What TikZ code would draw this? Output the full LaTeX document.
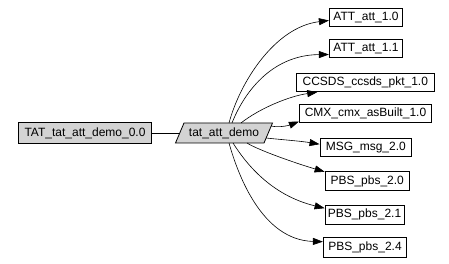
\documentclass[tikz,border=0pt]{standalone}
\usepackage{fontspec}
\setmainfont{Liberation Sans}
\usetikzlibrary{arrows.meta,calc,backgrounds}
\definecolor{nodegrey}{HTML}{D3D3D3}
\begin{document}
\begin{tikzpicture}[x=1pt,y=-1pt,
  lbl/.style={inner sep=0pt, font=\fontsize{12}{14}\selectfont},
  box/.style={lbl, draw, line width=0.8pt},
  edge/.style={line width=0.6pt, -{Triangle[length=10pt,width=7pt]}},
  link/.style={line width=0.6pt}]
\useasboundingbox (0,0) rectangle (449,264);
% left nodes
\node[box, fill=nodegrey, minimum width=133pt, minimum height=20.5pt] (tat) at (85,133) {TAT\_tat\_att\_demo\_0.0};
\node[lbl, minimum width=88pt, minimum height=20pt] (demo) at (224,133) {tat\_att\_demo};
\begin{scope}[on background layer]
\filldraw[fill=nodegrey, line width=0.8pt] ($(demo)+(-48.5,10)$) -- ($(demo)+(-40,-10)$) -- ($(demo)+(48.5,-10)$) -- ($(demo)+(40,10)$) -- cycle;
\end{scope}
% right nodes
\node[box, minimum width=73.4pt, minimum height=18.4pt] (att10) at (366,17.5) {ATT\_att\_1.0};
\node[box, minimum width=73.4pt, minimum height=18pt] (att11) at (366,48.5) {ATT\_att\_1.1};
\node[box, minimum width=137.3pt, minimum height=18pt] (ccsds) at (365.3,82.8) {CCSDS\_ccsds\_pkt\_1.0};
\node[box, minimum width=132.4pt, minimum height=18.5pt] (cmx) at (365.5,113.6) {CMX\_cmx\_asBuilt\_1.0};
\node[box, minimum width=91.7pt, minimum height=18pt] (msg) at (365.8,147.2) {MSG\_msg\_2.0};
\node[box, minimum width=84.3pt, minimum height=19pt] (pbs20) at (367.2,181.2) {PBS\_pbs\_2.0};
\node[box, minimum width=79pt, minimum height=19pt] (pbs21) at (364.5,214.7) {PBS\_pbs\_2.1};
\node[box, minimum width=83.4pt, minimum height=20pt] (pbs24) at (365,247.2) {PBS\_pbs\_2.4};
% connectors
\draw[link] (tat.east) -- ($(demo)+(-44,0)$);
\draw[edge] ($(demo)+(5,-10)$) .. controls (240,82) and (275,27) .. ($(att10.west)+(0,3)$);
\draw[edge] ($(demo)+(8,-10)$) .. controls (243,95) and (270,55) .. ($(att11.west)+(0,6)$);
\draw[edge] ($(demo)+(17,-10)$) .. controls (260,108) and (290,96) .. ($(ccsds.south west)+(21,0)$);
\draw[edge] ($(demo)+(47,-7)$) .. controls (280,128) and (290,125) .. ($(cmx.west)+(0,8)$);
\draw[edge] ($(demo)+(42,5)$) .. controls (285,140) and (300,141) .. ($(msg.west)+(0,-3)$);
\draw[edge] ($(demo)+(23,10)$) .. controls (258,150) and (295,163) .. ($(pbs20.north west)+(0,0.5)$);
\draw[edge] ($(demo)+(9,10)$) .. controls (245,162) and (270,195) .. ($(pbs21.west)+(0,-6.5)$);
\draw[edge] ($(demo)+(5,10)$) .. controls (238,175) and (262,240) .. ($(pbs24.west)+(0,-5.5)$);
\end{tikzpicture}
\end{document}
